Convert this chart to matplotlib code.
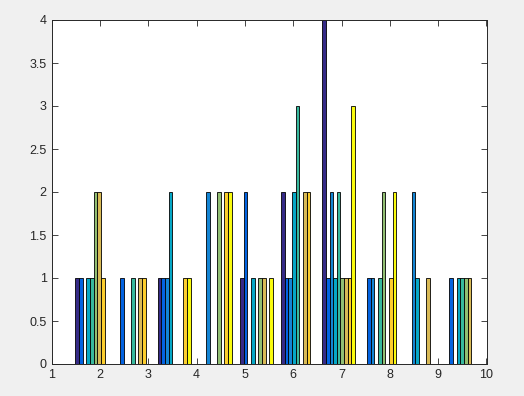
import matplotlib
matplotlib.use('Agg')
import numpy as np
from matplotlib import pyplot as plt

# bin centres (hist with 10 bins) and counts per column of the data
bin_centers = [1.834, 2.685, 3.537, 4.388, 5.239, 6.090, 6.941, 7.792, 8.643, 9.494]
counts = [
    [1, 0, 1, 0, 1, 2, 4, 0, 0, 0],
    [1, 1, 1, 0, 2, 1, 1, 1, 0, 1],
    [0, 0, 1, 2, 0, 1, 2, 1, 2, 0],
    [1, 0, 2, 0, 1, 2, 1, 0, 1, 1],
    [1, 1, 0, 0, 0, 3, 2, 1, 0, 1],
    [2, 0, 0, 2, 1, 0, 1, 2, 0, 1],
    [2, 1, 0, 0, 1, 2, 1, 0, 1, 1],
    [1, 1, 1, 2, 0, 2, 1, 1, 0, 0],
    [0, 0, 1, 2, 1, 0, 3, 2, 0, 0],
]
# parula(9)
colors = ['#352a87', '#0363e1', '#1485d4', '#06a7c6', '#38b99e',
          '#92bf73', '#d9ba56', '#fcce2e', '#f9fb0e']
x_ticks = [1, 2, 3, 4, 5, 6, 7, 8, 9, 10]
y_ticks = [0, 0.5, 1, 1.5, 2, 2.5, 3, 3.5, 4]

plt.rcParams['font.family'] = ['Liberation Sans', 'DejaVu Sans']

W, H = 524, 396
fig = plt.figure(figsize=(W / 100, H / 100), dpi=100, facecolor='#f0f0f0')
ax = fig.add_axes([51.5 / W, (H - 364) / H, (486.5 - 51.5) / W, 344 / H])

nser = len(counts)
binw = bin_centers[1] - bin_centers[0]
barw = 0.8 * binw / nser
centers = np.array(bin_centers)
for i, (c, col) in enumerate(zip(counts, colors)):
    off = (i - (nser - 1) / 2) * barw
    ax.bar(centers + off, c, width=barw, color=col, edgecolor='black',
           linewidth=0.6, zorder=2)

ax.set_xlim(1, 10)
ax.set_ylim(0, 4)
ax.set_xticks(x_ticks)
ax.set_yticks(y_ticks)
ax.set_xticklabels([str(t) for t in x_ticks])
ax.set_yticklabels(['0', '0.5', '1', '1.5', '2', '2.5', '3', '3.5', '4'])
ax.tick_params(direction='in', top=True, right=True, length=4, width=0.6,
               colors='#262626', labelsize=9, labelcolor='#262626')
for s in ax.spines.values():
    s.set_color('#262626')
    s.set_linewidth(0.7)

fig.savefig('out.png', dpi=100, facecolor=fig.get_facecolor())
